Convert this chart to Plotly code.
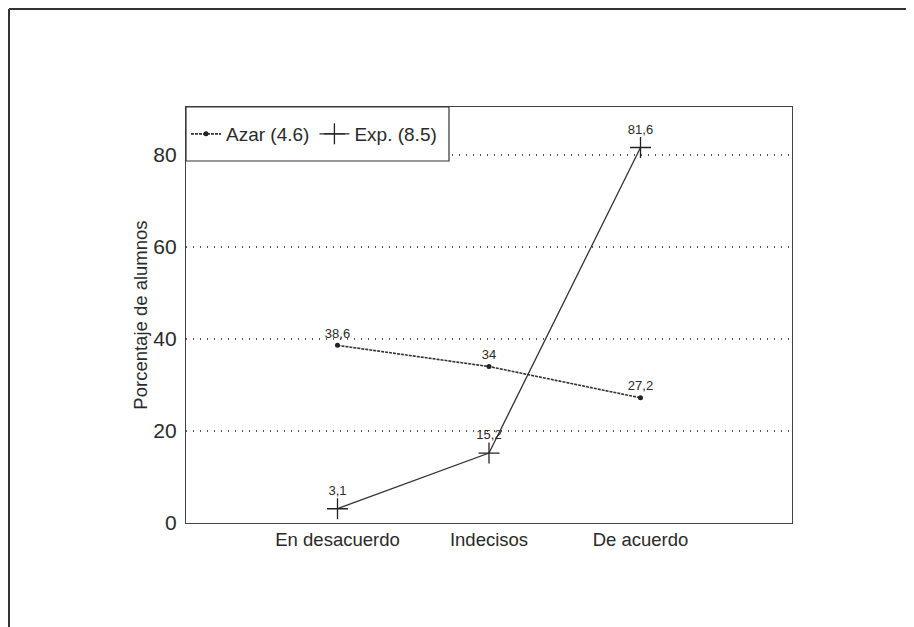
import plotly.graph_objects as go

categories = ["En desacuerdo", "Indecisos", "De acuerdo"]
azar_values = [38.6, 34, 27.2]
exp_values = [3.1, 15.2, 81.6]
azar_name = "Azar (4.6)"
exp_name = "Exp. (8.5)"
y_ticks = [0, 20, 40, 60, 80]

def fmt(v):
    s = ("%g" % v)
    return s.replace(".", ",")

xpos = list(range(len(categories)))
FONT = "Liberation Sans, Arial, sans-serif"
INK = "#2a2a2a"

fig = go.Figure()
fig.add_trace(go.Scatter(
    x=xpos, y=azar_values, name=azar_name, mode="lines+markers+text",
    line=dict(color="#333333", width=1.6, dash="3px,1px"),
    marker=dict(symbol="circle", size=5, color="#222222"),
    text=[fmt(v) for v in azar_values], textposition="top center",
    textfont=dict(size=13, color=INK, family=FONT),
))
fig.add_trace(go.Scatter(
    x=xpos, y=exp_values, name=exp_name, mode="lines+markers+text",
    line=dict(color="#333333", width=1.3),
    marker=dict(symbol="cross-thin", size=15, line=dict(width=1.3, color="#222222")),
    text=[fmt(v) for v in exp_values], textposition="top center",
    textfont=dict(size=13, color=INK, family=FONT),
))

# page body has an 8px margin, so figure coords = screen coords - 8
W, H = 914, 627
L, T = 178, 99
pw, ph = 606, 416
R = W - L - pw
B = H - T - ph

def px2x(px):
    return (px - L) / pw

def py2y(py):
    return (T + ph - py) / ph

shapes = [
    # outer frame (left and top)
    dict(type="line", xref="paper", yref="paper", x0=px2x(1), x1=px2x(1), y0=py2y(H), y1=py2y(1),
         line=dict(color="#333333", width=2)),
    dict(type="line", xref="paper", yref="paper", x0=px2x(1), x1=px2x(W), y0=py2y(1), y1=py2y(1),
         line=dict(color="#333333", width=2)),
    # legend box
    dict(type="rect", xref="paper", yref="paper", x0=0, x1=px2x(441), y0=py2y(153), y1=1,
         line=dict(color="#333333", width=1.2), fillcolor="white", layer="above"),
]

fig.update_layout(
    width=W, height=H,
    margin=dict(l=L, r=R, t=T, b=B, autoexpand=False),
    paper_bgcolor="white", plot_bgcolor="white",
    font=dict(family=FONT, color=INK),
    shapes=shapes,
    showlegend=True,
    legend=dict(orientation="h", x=0.0, y=(1 + py2y(153)) / 2, xanchor="left", yanchor="middle",
                bgcolor="rgba(0,0,0,0)", borderwidth=0,
                font=dict(size=19, family=FONT, color=INK),
                itemwidth=30, traceorder="normal"),
    xaxis=dict(range=[-1, 3], tickvals=xpos, ticktext=categories, showgrid=False, zeroline=False,
               showline=True, mirror=True, linecolor="#444444", linewidth=1.2,
               ticks="", ticklabelstandoff=0, tickfont=dict(size=18.5, family=FONT, color=INK)),
    yaxis=dict(range=[0, 90.4], tickvals=y_ticks, showgrid=True, gridcolor="#555555", griddash="1px,6px",
               gridwidth=1.5, zeroline=False,
               showline=True, mirror=True, linecolor="#444444", linewidth=1.2,
               ticks="", ticklabelstandoff=4, tickfont=dict(size=21, family=FONT, color=INK),
               title=dict(text="Porcentaje de alumnos", font=dict(size=18.5, family=FONT, color=INK),
                          standoff=0)),
)

fig.write_html("out.html")
